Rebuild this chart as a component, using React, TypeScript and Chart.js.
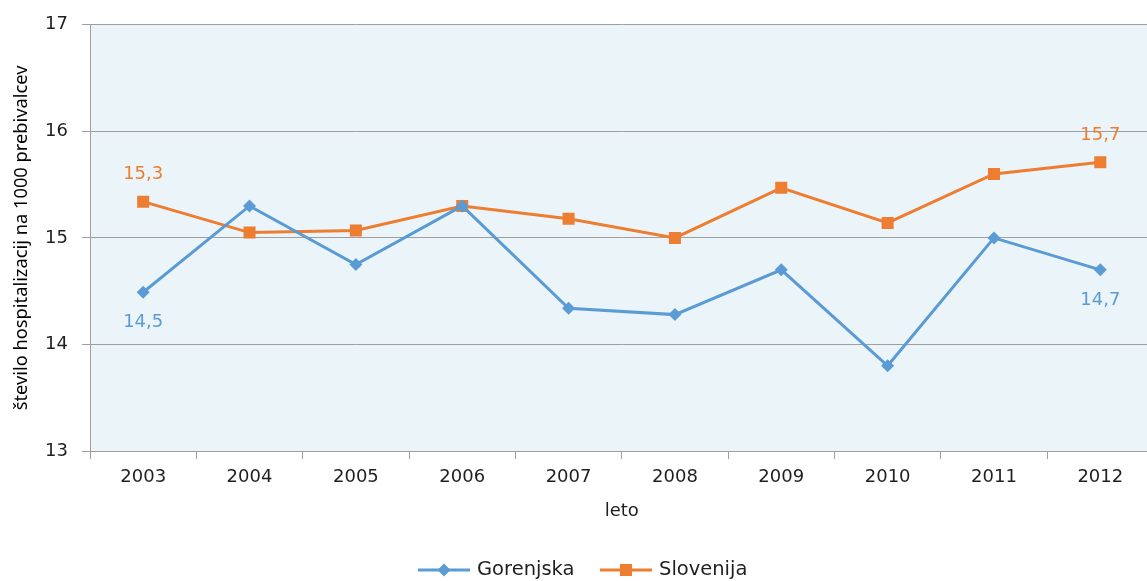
import React, { useEffect, useRef } from "react";
import { Chart, registerables } from "chart.js";

Chart.register(...registerables);

const years = ["2003", "2004", "2005", "2006", "2007", "2008", "2009", "2010", "2011", "2012"];
const gorenjska = [14.49, 15.3, 14.75, 15.3, 14.34, 14.28, 14.7, 13.8, 15.0, 14.7];
const slovenija = [15.34, 15.05, 15.07, 15.3, 15.18, 15.0, 15.47, 15.14, 15.6, 15.71];
const seriesNames = ["Gorenjska", "Slovenija"];
const seriesColors = ["#5B9BD5", "#ED7D31"];
const yMin = 13;
const yMax = 17;
const yTitle = "število hospitalizacij na 1000 prebivalcev";
const xTitle = "leto";

const FONT = "'DejaVu Sans', sans-serif";
const TITLE_FONT = "'Noto Sans', sans-serif";
const TEXT = "#1f1f1f";
const GRID = "#9f9f9f";

const fmt = (v: number) => v.toFixed(1).replace(".", ",");

const bgPlugin = {
  id: "plotBg",
  beforeDraw(chart: any) {
    const { ctx, chartArea } = chart;
    ctx.save();
    ctx.fillStyle = "#EBF5F9";
    ctx.fillRect(chartArea.left, chartArea.top, chartArea.right - chartArea.left, chartArea.bottom - chartArea.top);
    ctx.restore();
  },
};

const labelsPlugin = {
  id: "endLabels",
  afterDatasetsDraw(chart: any) {
    const { ctx } = chart;
    ctx.save();
    ctx.font = `18px ${FONT}`;
    ctx.textAlign = "center";
    ctx.textBaseline = "middle";
    chart.data.datasets.forEach((ds: any, di: number) => {
      const meta = chart.getDatasetMeta(di);
      const n = ds.data.length;
      [0, n - 1].forEach((i) => {
        const pt = meta.data[i];
        const above = di === 1;
        ctx.fillStyle = seriesColors[di];
        ctx.fillText(fmt(ds.data[i]), pt.x, above ? pt.y - 27 : pt.y + 30);
      });
    });
    ctx.restore();
  },
};

const legendPlugin = {
  id: "customLegend",
  afterDraw(chart: any) {
    const { ctx, chartArea } = chart;
    ctx.save();
    ctx.font = `18px ${FONT}`;
    ctx.fillStyle = TEXT;
    ctx.textAlign = "center";
    ctx.textBaseline = "middle";
    ctx.fillText(xTitle, (chartArea.left + chartArea.right) / 2, 511);
    const y = 570;
    const items = [
      { x: 418, name: seriesNames[0], color: seriesColors[0], shape: "diamond" },
      { x: 600, name: seriesNames[1], color: seriesColors[1], shape: "square" },
    ];
    ctx.font = `19.5px ${FONT}`;
    items.forEach((it) => {
      ctx.strokeStyle = it.color;
      ctx.lineWidth = 3;
      ctx.beginPath();
      ctx.moveTo(it.x, y);
      ctx.lineTo(it.x + 52, y);
      ctx.stroke();
      ctx.fillStyle = it.color;
      const cx = it.x + 26;
      if (it.shape === "diamond") {
        ctx.beginPath();
        ctx.moveTo(cx, y - 6.5);
        ctx.lineTo(cx + 6.5, y);
        ctx.lineTo(cx, y + 6.5);
        ctx.lineTo(cx - 6.5, y);
        ctx.closePath();
        ctx.fill();
      } else {
        ctx.fillRect(cx - 6, y - 6, 12, 12);
      }
      ctx.fillStyle = TEXT;
      ctx.textAlign = "left";
      ctx.fillText(it.name, it.x + 59, y);
    });
    ctx.restore();
  },
};

export default function App() {
  const ref = useRef<HTMLCanvasElement>(null);
  useEffect(() => {
    document.body.style.margin = "0";
    document.body.style.overflow = "hidden";
    const canvas = ref.current!;
    const chart = new Chart(canvas, {
      type: "line",
      data: {
        labels: years,
        datasets: [
          {
            label: seriesNames[0],
            data: gorenjska,
            borderColor: seriesColors[0],
            backgroundColor: seriesColors[0],
            borderWidth: 3,
            pointStyle: "rectRot",
            pointRadius: 6.5,
            pointBorderWidth: 0,
            tension: 0,
          },
          {
            label: seriesNames[1],
            data: slovenija,
            borderColor: seriesColors[1],
            backgroundColor: seriesColors[1],
            borderWidth: 3,
            pointStyle: "rect",
            pointRadius: 8.5,
            pointBorderWidth: 0,
            tension: 0,
          },
        ],
      },
      options: {
        animation: false,
        responsive: false,
        layout: { padding: { top: 24, left: 0, right: 0, bottom: 0 } },
        plugins: {
          legend: { display: false },
          tooltip: { enabled: false },
        },
        scales: {
          x: {
            offset: true,
            grid: {
              offset: true,
              drawOnChartArea: false,
              drawTicks: true,
              tickLength: 8,
              color: GRID,
            },
            border: { display: true, color: GRID, width: 1 },
            ticks: {
              color: TEXT,
              font: { family: FONT, size: 18 },
              padding: 8,
              maxRotation: 0,
            },
            afterFit: (s: any) => {
              s.height = 130;
            },
          },
          y: {
            min: yMin,
            max: yMax,
            ticks: {
              stepSize: 1,
              color: TEXT,
              font: { family: FONT, size: 18 },
              padding: 14,
            },
            grid: {
              color: GRID,
              tickLength: 8,
              lineWidth: 1,
            },
            border: { display: true, color: GRID, width: 1 },
            title: {
              display: true,
              text: yTitle,
              color: "#000000",
              font: { family: TITLE_FONT, size: 18.3 },
              padding: { top: 11, bottom: 0 },
            },
            afterFit: (s: any) => {
              s.width = 90;
            },
          },
        },
      },
      plugins: [bgPlugin, labelsPlugin, legendPlugin],
    });
    return () => chart.destroy();
  }, []);
  return <canvas ref={ref} width={1162} height={581} style={{ display: "block" }} />;
}
